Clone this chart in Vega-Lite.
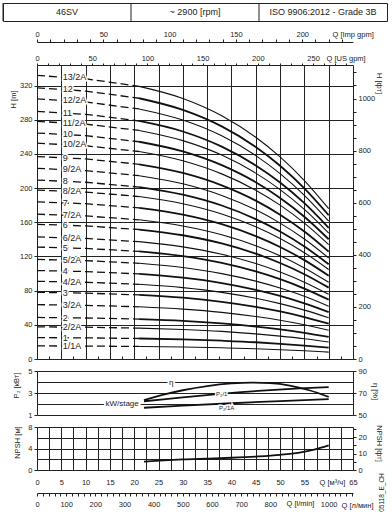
{
"$schema": "https://vega.github.io/schema/vega-lite/v6.json",
"background": "white",
"padding": {"left": 2, "top": 2, "right": 2, "bottom": 2},
"bounds": "flush",
"center": true,
"spacing": 12,
"config": {
 "font": "Liberation Sans",
 "view": {"stroke": "#222", "strokeWidth": 1},
 "axis": {"labelFont": "Liberation Sans", "titleFont": "Liberation Sans", "labelFontSize": 7.5, "titleFontSize": 7.5, "labelColor": "#222", "titleColor": "#222", "titleFontWeight": "normal", "tickColor": "#222", "domainColor": "#222", "gridColor": "#222", "gridWidth": 1, "labelFlush": false, "labelOverlap": false, "labelBound": false}
},
"datasets": {
 "headDashed": [
  {"curve":"13/2A","Q":0,"H":331.8},{"curve":"13/2A","Q":10,"H":327.9},{"curve":"13/2A","Q":21,"H":319.0},
  {"curve":"12","Q":0,"H":317.3},{"curve":"12","Q":10,"H":313.5},{"curve":"12","Q":21,"H":305.1},
  {"curve":"12/2A","Q":0,"H":304.3},{"curve":"12/2A","Q":10,"H":300.7},{"curve":"12/2A","Q":21,"H":292.6},
  {"curve":"11","Q":0,"H":289.7},{"curve":"11","Q":10,"H":286.3},{"curve":"11","Q":21,"H":278.5},
  {"curve":"11/2A","Q":0,"H":278.1},{"curve":"11/2A","Q":10,"H":274.8},{"curve":"11/2A","Q":21,"H":267.4},
  {"curve":"10","Q":0,"H":264.4},{"curve":"10","Q":10,"H":261.3},{"curve":"10","Q":21,"H":254.2},
  {"curve":"10/2A","Q":0,"H":252.5},{"curve":"10/2A","Q":10,"H":249.5},{"curve":"10/2A","Q":21,"H":242.8},
  {"curve":"9","Q":0,"H":236.9},{"curve":"9","Q":10,"H":234.1},{"curve":"9","Q":21,"H":227.8},
  {"curve":"9/2A","Q":0,"H":223.1},{"curve":"9/2A","Q":10,"H":220.4},{"curve":"9/2A","Q":21,"H":214.5},
  {"curve":"8","Q":0,"H":209.3},{"curve":"8","Q":10,"H":206.8},{"curve":"8","Q":21,"H":201.2},
  {"curve":"8/2A","Q":0,"H":197.7},{"curve":"8/2A","Q":10,"H":195.3},{"curve":"8/2A","Q":21,"H":190.1},
  {"curve":"7","Q":0,"H":183.9},{"curve":"7","Q":10,"H":181.7},{"curve":"7","Q":21,"H":176.8},
  {"curve":"7/2A","Q":0,"H":169.4},{"curve":"7/2A","Q":10,"H":167.4},{"curve":"7/2A","Q":21,"H":162.9},
  {"curve":"6","Q":0,"H":157.6},{"curve":"6","Q":10,"H":155.7},{"curve":"6","Q":21,"H":151.5},
  {"curve":"6/2A","Q":0,"H":142.8},{"curve":"6/2A","Q":10,"H":141.1},{"curve":"6/2A","Q":21,"H":137.3},
  {"curve":"5","Q":0,"H":131.0},{"curve":"5","Q":10,"H":129.4},{"curve":"5","Q":21,"H":125.9},
  {"curve":"5/2A","Q":0,"H":116.5},{"curve":"5/2A","Q":10,"H":115.1},{"curve":"5/2A","Q":21,"H":112.0},
  {"curve":"4","Q":0,"H":103.5},{"curve":"4","Q":10,"H":102.3},{"curve":"4","Q":21,"H":99.5},
  {"curve":"4/2A","Q":0,"H":90.9},{"curve":"4/2A","Q":10,"H":89.8},{"curve":"4/2A","Q":21,"H":87.4},
  {"curve":"3","Q":0,"H":78.0},{"curve":"3","Q":10,"H":77.1},{"curve":"3","Q":21,"H":75.0},
  {"curve":"3/2A","Q":0,"H":63.6},{"curve":"3/2A","Q":10,"H":62.8},{"curve":"3/2A","Q":21,"H":61.1},
  {"curve":"2","Q":0,"H":48.6},{"curve":"2","Q":10,"H":48.0},{"curve":"2","Q":21,"H":46.7},
  {"curve":"2/2A","Q":0,"H":37.6},{"curve":"2/2A","Q":10,"H":37.2},{"curve":"2/2A","Q":21,"H":36.1},
  {"curve":"1","Q":0,"H":25.0},{"curve":"1","Q":10,"H":24.7},{"curve":"1","Q":21,"H":24.0},
  {"curve":"1/1A","Q":0,"H":15.3},{"curve":"1/1A","Q":10,"H":15.1},{"curve":"1/1A","Q":21,"H":14.7}
 ],
 "headSolid": [
  {"curve":"13/2A","kind":"A","Q":21,"H":319.0},{"curve":"13/2A","kind":"A","Q":30,"H":304.9},{"curve":"13/2A","kind":"A","Q":38,"H":284.7},{"curve":"13/2A","kind":"A","Q":45,"H":259.5},{"curve":"13/2A","kind":"A","Q":50,"H":236.5},{"curve":"13/2A","kind":"A","Q":55,"H":208.8},{"curve":"13/2A","kind":"A","Q":60,"H":175.9},
  {"curve":"12","kind":"full","Q":21,"H":305.1},{"curve":"12","kind":"full","Q":30,"H":291.5},{"curve":"12","kind":"full","Q":38,"H":272.2},{"curve":"12","kind":"full","Q":45,"H":248.1},{"curve":"12","kind":"full","Q":50,"H":226.1},{"curve":"12","kind":"full","Q":55,"H":199.6},{"curve":"12","kind":"full","Q":60,"H":168.2},
  {"curve":"12/2A","kind":"A","Q":21,"H":292.6},{"curve":"12/2A","kind":"A","Q":30,"H":279.6},{"curve":"12/2A","kind":"A","Q":38,"H":261.1},{"curve":"12/2A","kind":"A","Q":45,"H":238.0},{"curve":"12/2A","kind":"A","Q":50,"H":216.9},{"curve":"12/2A","kind":"A","Q":55,"H":191.5},{"curve":"12/2A","kind":"A","Q":60,"H":161.3},
  {"curve":"11","kind":"full","Q":21,"H":278.5},{"curve":"11","kind":"full","Q":30,"H":266.2},{"curve":"11","kind":"full","Q":38,"H":248.5},{"curve":"11","kind":"full","Q":45,"H":226.5},{"curve":"11","kind":"full","Q":50,"H":206.5},{"curve":"11","kind":"full","Q":55,"H":182.3},{"curve":"11","kind":"full","Q":60,"H":153.5},
  {"curve":"11/2A","kind":"A","Q":21,"H":267.4},{"curve":"11/2A","kind":"A","Q":30,"H":255.5},{"curve":"11/2A","kind":"A","Q":38,"H":238.6},{"curve":"11/2A","kind":"A","Q":45,"H":217.5},{"curve":"11/2A","kind":"A","Q":50,"H":198.2},{"curve":"11/2A","kind":"A","Q":55,"H":175.0},{"curve":"11/2A","kind":"A","Q":60,"H":147.4},
  {"curve":"10","kind":"full","Q":21,"H":254.2},{"curve":"10","kind":"full","Q":30,"H":242.9},{"curve":"10","kind":"full","Q":38,"H":226.8},{"curve":"10","kind":"full","Q":45,"H":206.8},{"curve":"10","kind":"full","Q":50,"H":188.4},{"curve":"10","kind":"full","Q":55,"H":166.4},{"curve":"10","kind":"full","Q":60,"H":140.1},
  {"curve":"10/2A","kind":"A","Q":21,"H":242.8},{"curve":"10/2A","kind":"A","Q":30,"H":232.0},{"curve":"10/2A","kind":"A","Q":38,"H":216.6},{"curve":"10/2A","kind":"A","Q":45,"H":197.5},{"curve":"10/2A","kind":"A","Q":50,"H":180.0},{"curve":"10/2A","kind":"A","Q":55,"H":158.9},{"curve":"10/2A","kind":"A","Q":60,"H":133.8},
  {"curve":"9","kind":"full","Q":21,"H":227.8},{"curve":"9","kind":"full","Q":30,"H":217.7},{"curve":"9","kind":"full","Q":38,"H":203.2},{"curve":"9","kind":"full","Q":45,"H":185.3},{"curve":"9","kind":"full","Q":50,"H":168.8},{"curve":"9","kind":"full","Q":55,"H":149.1},{"curve":"9","kind":"full","Q":60,"H":125.6},
  {"curve":"9/2A","kind":"A","Q":21,"H":214.5},{"curve":"9/2A","kind":"A","Q":30,"H":205.0},{"curve":"9/2A","kind":"A","Q":38,"H":191.4},{"curve":"9/2A","kind":"A","Q":45,"H":174.5},{"curve":"9/2A","kind":"A","Q":50,"H":159.0},{"curve":"9/2A","kind":"A","Q":55,"H":140.4},{"curve":"9/2A","kind":"A","Q":60,"H":118.2},
  {"curve":"8","kind":"full","Q":21,"H":201.2},{"curve":"8","kind":"full","Q":30,"H":192.3},{"curve":"8","kind":"full","Q":38,"H":179.6},{"curve":"8","kind":"full","Q":45,"H":163.7},{"curve":"8","kind":"full","Q":50,"H":149.2},{"curve":"8","kind":"full","Q":55,"H":131.7},{"curve":"8","kind":"full","Q":60,"H":110.9},
  {"curve":"8/2A","kind":"A","Q":21,"H":190.1},{"curve":"8/2A","kind":"A","Q":30,"H":181.6},{"curve":"8/2A","kind":"A","Q":38,"H":169.6},{"curve":"8/2A","kind":"A","Q":45,"H":154.6},{"curve":"8/2A","kind":"A","Q":50,"H":140.9},{"curve":"8/2A","kind":"A","Q":55,"H":124.4},{"curve":"8/2A","kind":"A","Q":60,"H":104.8},
  {"curve":"7","kind":"full","Q":21,"H":176.8},{"curve":"7","kind":"full","Q":30,"H":169.0},{"curve":"7","kind":"full","Q":38,"H":157.8},{"curve":"7","kind":"full","Q":45,"H":143.8},{"curve":"7","kind":"full","Q":50,"H":131.1},{"curve":"7","kind":"full","Q":55,"H":115.7},{"curve":"7","kind":"full","Q":60,"H":97.5},
  {"curve":"7/2A","kind":"A","Q":21,"H":162.9},{"curve":"7/2A","kind":"A","Q":30,"H":155.6},{"curve":"7/2A","kind":"A","Q":38,"H":145.3},{"curve":"7/2A","kind":"A","Q":45,"H":132.5},{"curve":"7/2A","kind":"A","Q":50,"H":120.7},{"curve":"7/2A","kind":"A","Q":55,"H":106.6},{"curve":"7/2A","kind":"A","Q":60,"H":89.8},
  {"curve":"6","kind":"full","Q":21,"H":151.5},{"curve":"6","kind":"full","Q":30,"H":144.8},{"curve":"6","kind":"full","Q":38,"H":135.2},{"curve":"6","kind":"full","Q":45,"H":123.2},{"curve":"6","kind":"full","Q":50,"H":112.3},{"curve":"6","kind":"full","Q":55,"H":99.2},{"curve":"6","kind":"full","Q":60,"H":83.5},
  {"curve":"6/2A","kind":"A","Q":21,"H":137.3},{"curve":"6/2A","kind":"A","Q":30,"H":131.2},{"curve":"6/2A","kind":"A","Q":38,"H":122.5},{"curve":"6/2A","kind":"A","Q":45,"H":111.7},{"curve":"6/2A","kind":"A","Q":50,"H":101.8},{"curve":"6/2A","kind":"A","Q":55,"H":89.9},{"curve":"6/2A","kind":"A","Q":60,"H":75.7},
  {"curve":"5","kind":"full","Q":21,"H":125.9},{"curve":"5","kind":"full","Q":30,"H":120.4},{"curve":"5","kind":"full","Q":38,"H":112.4},{"curve":"5","kind":"full","Q":45,"H":102.4},{"curve":"5","kind":"full","Q":50,"H":93.4},{"curve":"5","kind":"full","Q":55,"H":82.4},{"curve":"5","kind":"full","Q":60,"H":69.4},
  {"curve":"5/2A","kind":"A","Q":21,"H":112.0},{"curve":"5/2A","kind":"A","Q":30,"H":107.0},{"curve":"5/2A","kind":"A","Q":38,"H":99.9},{"curve":"5/2A","kind":"A","Q":45,"H":91.1},{"curve":"5/2A","kind":"A","Q":50,"H":83.0},{"curve":"5/2A","kind":"A","Q":55,"H":73.3},{"curve":"5/2A","kind":"A","Q":60,"H":61.7},
  {"curve":"4","kind":"full","Q":21,"H":99.5},{"curve":"4","kind":"full","Q":30,"H":95.1},{"curve":"4","kind":"full","Q":38,"H":88.8},{"curve":"4","kind":"full","Q":45,"H":80.9},{"curve":"4","kind":"full","Q":50,"H":73.8},{"curve":"4","kind":"full","Q":55,"H":65.1},{"curve":"4","kind":"full","Q":60,"H":54.9},
  {"curve":"4/2A","kind":"A","Q":21,"H":87.4},{"curve":"4/2A","kind":"A","Q":30,"H":83.5},{"curve":"4/2A","kind":"A","Q":38,"H":78.0},{"curve":"4/2A","kind":"A","Q":45,"H":71.1},{"curve":"4/2A","kind":"A","Q":50,"H":64.8},{"curve":"4/2A","kind":"A","Q":55,"H":57.2},{"curve":"4/2A","kind":"A","Q":60,"H":48.2},
  {"curve":"3","kind":"full","Q":21,"H":75.0},{"curve":"3","kind":"full","Q":30,"H":71.7},{"curve":"3","kind":"full","Q":38,"H":66.9},{"curve":"3","kind":"full","Q":45,"H":61.0},{"curve":"3","kind":"full","Q":50,"H":55.6},{"curve":"3","kind":"full","Q":55,"H":49.1},{"curve":"3","kind":"full","Q":60,"H":41.3},
  {"curve":"3/2A","kind":"A","Q":21,"H":61.1},{"curve":"3/2A","kind":"A","Q":30,"H":58.4},{"curve":"3/2A","kind":"A","Q":38,"H":54.6},{"curve":"3/2A","kind":"A","Q":45,"H":49.7},{"curve":"3/2A","kind":"A","Q":50,"H":45.3},{"curve":"3/2A","kind":"A","Q":55,"H":40.0},{"curve":"3/2A","kind":"A","Q":60,"H":33.7},
  {"curve":"2","kind":"full","Q":21,"H":46.7},{"curve":"2","kind":"full","Q":30,"H":44.7},{"curve":"2","kind":"full","Q":38,"H":41.7},{"curve":"2","kind":"full","Q":45,"H":38.0},{"curve":"2","kind":"full","Q":50,"H":34.6},{"curve":"2","kind":"full","Q":55,"H":30.6},{"curve":"2","kind":"full","Q":60,"H":25.8},
  {"curve":"2/2A","kind":"A","Q":21,"H":36.1},{"curve":"2/2A","kind":"A","Q":30,"H":34.5},{"curve":"2/2A","kind":"A","Q":38,"H":32.3},{"curve":"2/2A","kind":"A","Q":45,"H":29.4},{"curve":"2/2A","kind":"A","Q":50,"H":26.8},{"curve":"2/2A","kind":"A","Q":55,"H":23.7},{"curve":"2/2A","kind":"A","Q":60,"H":19.9},
  {"curve":"1","kind":"full","Q":21,"H":24.0},{"curve":"1","kind":"full","Q":30,"H":23.0},{"curve":"1","kind":"full","Q":38,"H":21.4},{"curve":"1","kind":"full","Q":45,"H":19.6},{"curve":"1","kind":"full","Q":50,"H":17.8},{"curve":"1","kind":"full","Q":55,"H":15.7},{"curve":"1","kind":"full","Q":60,"H":13.3},
  {"curve":"1/1A","kind":"A","Q":21,"H":14.7},{"curve":"1/1A","kind":"A","Q":30,"H":14.1},{"curve":"1/1A","kind":"A","Q":38,"H":13.1},{"curve":"1/1A","kind":"A","Q":45,"H":12.0},{"curve":"1/1A","kind":"A","Q":50,"H":10.9},{"curve":"1/1A","kind":"A","Q":55,"H":9.6},{"curve":"1/1A","kind":"A","Q":60,"H":8.1}
 ],
 "headLabels": [
  {"curve":"13/2A","Q":5.3,"H":329.8},{"curve":"12","Q":5.3,"H":315.4},{"curve":"12/2A","Q":5.3,"H":302.5},{"curve":"11","Q":5.3,"H":288.0},{"curve":"11/2A","Q":5.3,"H":276.4},
  {"curve":"10","Q":5.3,"H":262.8},{"curve":"10/2A","Q":5.3,"H":251.0},{"curve":"9","Q":5.3,"H":235.5},{"curve":"9/2A","Q":5.3,"H":221.8},{"curve":"8","Q":5.3,"H":208.0},
  {"curve":"8/2A","Q":5.3,"H":196.5},{"curve":"7","Q":5.3,"H":182.8},{"curve":"7/2A","Q":5.3,"H":168.4},{"curve":"6","Q":5.3,"H":156.7},{"curve":"6/2A","Q":5.3,"H":141.9},
  {"curve":"5","Q":5.3,"H":130.2},{"curve":"5/2A","Q":5.3,"H":115.8},{"curve":"4","Q":5.3,"H":102.9},{"curve":"4/2A","Q":5.3,"H":90.4},{"curve":"3","Q":5.3,"H":77.5},
  {"curve":"3/2A","Q":5.3,"H":63.2},{"curve":"2","Q":5.3,"H":48.3},{"curve":"2/2A","Q":5.3,"H":37.4},{"curve":"1","Q":5.3,"H":24.9},{"curve":"1/1A","Q":5.3,"H":15.2}
 ],
 "power": [
  {"curve":"P2/1","Q":22,"P":2.25},{"curve":"P2/1","Q":26,"P":2.42},{"curve":"P2/1","Q":30,"P":2.6},{"curve":"P2/1","Q":36,"P":2.85},{"curve":"P2/1","Q":42,"P":3.08},{"curve":"P2/1","Q":48,"P":3.27},{"curve":"P2/1","Q":54,"P":3.42},{"curve":"P2/1","Q":60,"P":3.53},
  {"curve":"P2/1A","Q":22,"P":1.66},{"curve":"P2/1A","Q":30,"P":1.85},{"curve":"P2/1A","Q":40,"P":2.07},{"curve":"P2/1A","Q":50,"P":2.27},{"curve":"P2/1A","Q":60,"P":2.44}
 ],
 "powerLabels": [
  {"label":"P₂/1","Q":38,"P":2.95},{"label":"P₂/1A","Q":39,"P":1.6}
 ],
 "bigLabels": [
  {"label":"kW/stage","Q":17.5,"P":2.0},{"label":"η","Q":27.6,"P":3.9}
 ],
 "efficiency": [
  {"Q":22,"eta":63.5},{"Q":26,"eta":68.5},{"Q":30,"eta":72.5},{"Q":35,"eta":76.3},{"Q":40,"eta":78.7},{"Q":44,"eta":79.5},{"Q":48,"eta":79.0},{"Q":52,"eta":76.8},{"Q":56,"eta":72.5},{"Q":60,"eta":66.5}
 ],
 "npsh": [
  {"Q":22,"NPSH":1.55},{"Q":26,"NPSH":1.78},{"Q":30,"NPSH":1.97},{"Q":35,"NPSH":2.12},{"Q":40,"NPSH":2.28},{"Q":45,"NPSH":2.5},{"Q":50,"NPSH":2.82},{"Q":54,"NPSH":3.25},{"Q":57,"NPSH":3.8},{"Q":60,"NPSH":4.6}
 ],
 "anchorH": [{"Q": 0, "H": 0}],
 "anchorN": [{"Q": 0, "NPSH": 0}],
 "header": [{"cell": "46SV"}, {"cell": "~ 2900 [rpm]"}, {"cell": "ISO 9906:2012 - Grade 3B"}]
},
"vconcat": [
 {
  "width": 384, "height": 18,
  "data": {"name": "header"},
  "layer": [
   {"mark": {"type": "text", "fontSize": 9, "color": "#222"},
    "encoding": {
     "x": {"field": "cell", "type": "nominal", "sort": null, "scale": {"type": "band", "paddingInner": 0, "paddingOuter": 0}, "axis": null},
     "text": {"field": "cell", "type": "nominal"}
    }
   },
   {"mark": {"type": "rule", "color": "#222", "strokeWidth": 1},
    "encoding": {
     "x": {"field": "cell", "type": "nominal", "sort": null, "bandPosition": 0, "scale": {"type": "band", "paddingInner": 0, "paddingOuter": 0}, "axis": null}
    }
   }
  ]
 },
 {
  "width": 316, "height": 20,
  "view": {"stroke": null},
  "data": {"values": [{"s": 0}]},
  "mark": {"type": "point", "opacity": 0},
  "encoding": {}
 },
 {
  "width": 316, "height": 294,
  "resolve": {"axis": {"x": "independent", "y": "independent"}},
  "layer": [
   {"data": {"name": "headDashed"}, "mark": {"type": "line", "strokeDash": [8, 4], "strokeWidth": 1.3, "color": "#111"},
    "encoding": {
     "x": {"field": "Q", "type": "quantitative", "scale": {"domain": [0, 65], "nice": false, "zero": false},
      "axis": {"values": [0,2.5,5,7.5,10,12.5,15,17.5,20,22.5,25,27.5,30,32.5,35,37.5,40,42.5,45,47.5,50,52.5,55,57.5,60,62.5,65], "labels": false, "title": null, "domain": false, "tickSize": -3, "grid": true, "gridOpacity": {"condition": {"test": "datum.value % 5 === 0 && datum.value > 0 && datum.value < 65", "value": 1}, "value": 0}}},
     "y": {"field": "H", "type": "quantitative", "scale": {"domain": [0, 344], "nice": false},
      "axis": {"values": [0,40,80,120,160,200,240,280,320], "tickSize": 3, "labelPadding": 2, "domain": false, "grid": true, "gridOpacity": {"condition": {"test": "datum.value > 0", "value": 1}, "value": 0}, "title": "H [m]", "titleAngle": 270, "titleX": -24, "titleY": 34, "titleAlign": "center", "titleBaseline": "middle"}},
     "detail": {"field": "curve", "type": "nominal"}
    }
   },
   {"data": {"name": "headSolid"}, "mark": {"type": "line", "interpolate": "monotone", "color": "#111"},
    "encoding": {
     "x": {"field": "Q", "type": "quantitative", "scale": {"domain": [0, 65], "nice": false, "zero": false}, "axis": null},
     "y": {"field": "H", "type": "quantitative", "scale": {"domain": [0, 344], "nice": false}, "axis": null},
     "detail": {"field": "curve", "type": "nominal"},
     "strokeWidth": {"field": "kind", "type": "nominal", "scale": {"domain": ["full", "A"], "range": [1.8, 1.1]}, "legend": null}
    }
   },
   {"data": {"name": "headLabels"}, "mark": {"type": "text", "align": "left", "baseline": "middle", "fontSize": 9, "fill": "white", "stroke": "white", "strokeWidth": 3},
    "encoding": {
     "x": {"field": "Q", "type": "quantitative", "scale": {"domain": [0, 65], "nice": false, "zero": false}, "axis": null},
     "y": {"field": "H", "type": "quantitative", "scale": {"domain": [0, 344], "nice": false}, "axis": null},
     "text": {"field": "curve", "type": "nominal"}
    }
   },
   {"data": {"name": "headLabels"}, "mark": {"type": "text", "align": "left", "baseline": "middle", "fontSize": 9, "color": "#222"},
    "encoding": {
     "x": {"field": "Q", "type": "quantitative", "scale": {"domain": [0, 65], "nice": false, "zero": false}, "axis": null},
     "y": {"field": "H", "type": "quantitative", "scale": {"domain": [0, 344], "nice": false}, "axis": null},
     "text": {"field": "curve", "type": "nominal"}
    }
   },
   {"data": {"name": "anchorH"}, "mark": {"type": "point", "opacity": 0},
    "encoding": {
     "x": {"field": "Q", "type": "quantitative", "scale": {"domain": [0, 65], "nice": false, "zero": false}, "axis": null},
     "y": {"field": "H", "type": "quantitative", "scale": {"domain": [0, 344], "nice": false},
      "axis": {"orient": "right", "values": [0,15.24,30.48,45.72,60.96,76.2,91.44,106.68,121.92,137.16,152.4,167.64,182.88,198.12,213.36,228.6,243.84,259.08,274.32,289.56,304.8,320.04,335.28], "labelExpr": "round(datum.value / 0.3048) % 200 === 0 ? format(round(datum.value / 0.3048), 'd') : ''", "tickSize": 3, "labelPadding": 2, "domain": false, "grid": false, "title": "H [фт]", "titleX": 25, "titleY": 18, "titleAlign": "center", "titleBaseline": "middle"}}
    }
   },
   {"data": {"name": "anchorH"}, "mark": {"type": "point", "opacity": 0},
    "encoding": {
     "x": {"field": "Q", "type": "quantitative", "scale": {"domain": [0, 65], "nice": false, "zero": false},
      "axis": {"orient": "top", "values": [0,2.2712,4.5424,6.8136,9.0848,11.356,13.6272,15.8984,18.1696,20.4408,22.712,24.9832,27.2544,29.5256,31.7968,34.068,36.3392,38.6104,40.8816,43.1528,45.424,47.6952,49.9664,52.2376,54.5088,56.78,59.0512,61.3224,63.5936], "labelExpr": "round(datum.value / 0.22712) % 50 === 0 ? format(round(datum.value / 0.22712), 'd') : ''", "tickSize": 2, "labelPadding": 1, "domain": false, "grid": false, "title": "Q [US gpm]", "titleX": 289, "titleY": -7, "titleAlign": "left", "titleBaseline": "middle"}},
     "y": {"field": "H", "type": "quantitative", "scale": {"domain": [0, 344], "nice": false}, "axis": null}
    }
   },
   {"data": {"name": "anchorH"}, "mark": {"type": "point", "opacity": 0},
    "encoding": {
     "x": {"field": "Q", "type": "quantitative", "scale": {"domain": [0, 65], "nice": false, "zero": false},
      "axis": {"orient": "top", "offset": 23, "values": [0,2.72765,5.4553,8.18295,10.9106,13.63825,16.3659,19.09355,21.8212,24.54885,27.2765,30.00415,32.7318,35.45945,38.1871,40.91475,43.6424,46.37005,49.0977,51.82535,54.553,57.28065,60.0083,62.73595], "labelExpr": "round(datum.value / 0.272765) % 50 === 0 ? format(round(datum.value / 0.272765), 'd') : ''", "tickSize": 3, "labelPadding": 1, "domain": true, "grid": false, "title": "Q [Imp gpm]", "titleX": 295, "titleY": -8, "titleAlign": "left", "titleBaseline": "middle"}},
     "y": {"field": "H", "type": "quantitative", "scale": {"domain": [0, 344], "nice": false}, "axis": null}
    }
   }
  ]
 },
 {
  "width": 316, "height": 44,
  "resolve": {"scale": {"y": "independent"}},
  "layer": [
   {
    "encoding": {
     "x": {"field": "Q", "type": "quantitative", "scale": {"domain": [0, 65], "nice": false, "zero": false},
      "axis": {"values": [0,2.5,5,7.5,10,12.5,15,17.5,20,22.5,25,27.5,30,32.5,35,37.5,40,42.5,45,47.5,50,52.5,55,57.5,60,62.5,65], "labels": false, "ticks": false, "title": null, "domain": false, "grid": true, "gridOpacity": {"condition": {"test": "datum.value > 0 && datum.value < 65", "value": 1}, "value": 0}}},
     "y": {"field": "P", "type": "quantitative", "scale": {"domain": [1, 5], "nice": false, "zero": false},
      "axis": {"values": [1,1.5,2,2.5,3,3.5,4,4.5,5], "format": "d", "labelExpr": "datum.value % 2 === 1 ? datum.label : ''", "tickSize": 3, "tickOpacity": {"condition": {"test": "datum.value % 2 === 1", "value": 1}, "value": 0}, "labelPadding": 2, "domain": false, "grid": true, "gridOpacity": {"condition": {"test": "datum.value > 1 && datum.value < 5", "value": 1}, "value": 0}, "title": "P₂ [кВт]", "titleAngle": 270, "titleX": -21, "titleY": 14, "titleAlign": "center", "titleBaseline": "middle"}}
    },
    "layer": [
     {"data": {"name": "power"}, "mark": {"type": "line", "interpolate": "monotone", "strokeWidth": 1.8, "color": "#111"}, "encoding": {"detail": {"field": "curve", "type": "nominal"}}},
     {"data": {"name": "powerLabels"}, "mark": {"type": "text", "fontSize": 6, "fill": "white", "stroke": "white", "strokeWidth": 3}, "encoding": {"text": {"field": "label", "type": "nominal"}}},
     {"data": {"name": "powerLabels"}, "mark": {"type": "text", "fontSize": 6, "color": "#222"}, "encoding": {"text": {"field": "label", "type": "nominal"}}},
     {"data": {"name": "bigLabels"}, "mark": {"type": "text", "fontSize": 8, "fill": "white", "stroke": "white", "strokeWidth": 4}, "encoding": {"text": {"field": "label", "type": "nominal"}}},
     {"data": {"name": "bigLabels"}, "mark": {"type": "text", "fontSize": 8, "color": "#222"}, "encoding": {"text": {"field": "label", "type": "nominal"}}}
    ]
   },
   {
    "data": {"name": "efficiency"},
    "mark": {"type": "line", "interpolate": "monotone", "strokeWidth": 1.8, "color": "#111"},
    "encoding": {
     "x": {"field": "Q", "type": "quantitative", "scale": {"domain": [0, 65], "nice": false, "zero": false}, "axis": null},
     "y": {"field": "eta", "type": "quantitative", "scale": {"domain": [50, 90], "nice": false, "zero": false},
      "axis": {"orient": "right", "values": [50, 70, 90], "tickSize": 3, "labelPadding": 2, "domain": false, "grid": false, "title": "η [%]", "titleX": 21, "titleY": 20, "titleAlign": "center", "titleBaseline": "middle"}}
    }
   }
  ]
 },
 {
  "width": 316, "height": 43,
  "resolve": {"axis": {"x": "independent", "y": "independent"}},
  "layer": [
   {
    "data": {"name": "npsh"},
    "mark": {"type": "line", "interpolate": "monotone", "strokeWidth": 1.8, "color": "#111"},
    "encoding": {
     "x": {"field": "Q", "type": "quantitative", "scale": {"domain": [0, 65], "nice": false, "zero": false},
      "axis": {"values": [0,2.5,5,7.5,10,12.5,15,17.5,20,22.5,25,27.5,30,32.5,35,37.5,40,42.5,45,47.5,50,52.5,55,57.5,60,62.5,65], "labelExpr": "datum.value % 5 === 0 && datum.value !== 60 ? datum.label : ''", "ticks": false, "labelPadding": 8, "domain": false, "grid": true, "gridOpacity": {"condition": {"test": "datum.value > 0 && datum.value < 65", "value": 1}, "value": 0}, "title": "Q [м³/ч]", "titleX": 282, "titleY": 12, "titleAlign": "left", "titleBaseline": "middle"}},
     "y": {"field": "NPSH", "type": "quantitative", "scale": {"domain": [0, 8], "nice": false},
      "axis": {"values": [0,2,4,6,8], "labelExpr": "datum.value % 4 === 0 ? datum.label : ''", "tickSize": 3, "tickOpacity": {"condition": {"test": "datum.value % 4 === 0", "value": 1}, "value": 0}, "labelPadding": 2, "domain": false, "grid": true, "gridOpacity": {"condition": {"test": "datum.value > 0 && datum.value < 8", "value": 1}, "value": 0}, "title": "NPSH [м]", "titleAngle": 270, "titleX": -20, "titleY": 15, "titleAlign": "center", "titleBaseline": "middle"}}
    }
   },
   {"data": {"name": "anchorN"}, "mark": {"type": "point", "opacity": 0},
    "encoding": {
     "x": {"field": "Q", "type": "quantitative", "scale": {"domain": [0, 65], "nice": false, "zero": false}, "axis": null},
     "y": {"field": "NPSH", "type": "quantitative", "scale": {"domain": [0, 8], "nice": false},
      "axis": {"orient": "right", "values": [0,1.524,3.048,4.572,6.096,7.62], "labelExpr": "round(datum.value / 0.3048) % 10 === 0 ? format(round(datum.value / 0.3048), 'd') : ''", "tickSize": 3, "labelPadding": 2, "domain": false, "grid": false, "title": "NPSH [фт]", "titleX": 25, "titleY": 16, "titleAlign": "center", "titleBaseline": "middle"}}
    }
   },
   {"data": {"name": "anchorN"}, "mark": {"type": "point", "opacity": 0},
    "encoding": {
     "x": {"field": "Q", "type": "quantitative", "scale": {"domain": [0, 65], "nice": false, "zero": false}, "axis": null},
     "y": {"field": "NPSH", "type": "quantitative", "scale": {"domain": [0, 8], "nice": false},
      "axis": {"orient": "right", "domain": false, "ticks": false, "labels": false, "grid": false, "title": "05118_E_CH", "titleFontSize": 6.5, "titleAngle": 270, "titleX": 28, "titleY": 65, "titleAlign": "center", "titleBaseline": "middle"}}
    }
   },
   {"data": {"name": "anchorN"}, "mark": {"type": "point", "opacity": 0},
    "encoding": {
     "x": {"field": "Q", "type": "quantitative", "scale": {"domain": [0, 65], "nice": false, "zero": false},
      "axis": {"orient": "bottom", "offset": 23, "values": [0,1.2,2.4,3.6,4.8,6,7.2,8.4,9.6,10.8,12,13.2,14.4,15.6,16.8,18,19.2,20.4,21.6,22.8,24,25.2,26.4,27.6,28.8,30,31.2,32.4,33.6,34.8,36,37.2,38.4,39.6,40.8,42,43.2,44.4,45.6,46.8,48,49.2,50.4,51.6,52.8,54,55.2,56.4,57.6,58.8,60,61.2,62.4,63.6,64.8], "labelExpr": "round(datum.value / 0.06) % 100 === 0 && round(datum.value / 0.06) !== 900 ? format(round(datum.value / 0.06), 'd') : ''", "tickSize": 3, "labelPadding": 4, "domain": true, "grid": false, "title": "Q [l/min]", "titleX": 249, "titleY": 10, "titleAlign": "left", "titleBaseline": "middle"}},
     "y": {"field": "NPSH", "type": "quantitative", "scale": {"domain": [0, 8], "nice": false}, "axis": null}
    }
   },
   {"data": {"name": "anchorN"}, "mark": {"type": "point", "opacity": 0},
    "encoding": {
     "x": {"field": "Q", "type": "quantitative", "scale": {"domain": [0, 65], "nice": false, "zero": false},
      "axis": {"orient": "bottom", "offset": 23, "domain": false, "ticks": false, "labels": false, "grid": false, "title": "Q [л/мин]", "titleX": 304, "titleY": 12, "titleAlign": "left", "titleBaseline": "middle"}},
     "y": {"field": "NPSH", "type": "quantitative", "scale": {"domain": [0, 8], "nice": false}, "axis": null}
    }
   }
  ]
 }
]
}
